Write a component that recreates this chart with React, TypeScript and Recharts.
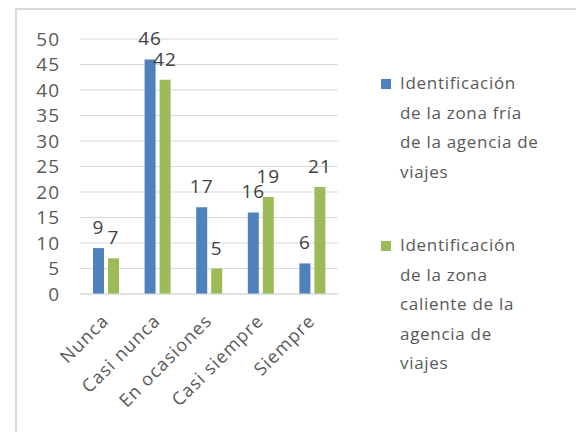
import React from 'react';
import { BarChart, Bar, XAxis, YAxis, CartesianGrid, LabelList } from 'recharts';

const categories = ['Nunca', 'Casi nunca', 'En ocasiones', 'Casi siempre', 'Siempre'];
const zonaFria = [9, 46, 17, 16, 6];
const zonaCaliente = [7, 42, 5, 19, 21];
// line breaks as in the original legend
const seriesNames = [
  'Identificación\nde la zona fría\nde la agencia de\nviajes',
  'Identificación\nde la zona\ncaliente de la\nagencia de\nviajes',
];
const seriesColors = ['#4F81BD', '#9BBB59'];
const yTicks = [0, 5, 10, 15, 20, 25, 30, 35, 40, 45, 50];

const data = categories.map((name, i) => ({
  name,
  fria: zonaFria[i],
  caliente: zonaCaliente[i],
}));

const FONT = '"Open Sans", sans-serif';

const XTick = ({ x, y, payload }: any) => (
  <g transform={`translate(${x + 4},${y + 20})`}>
    <text
      x={0}
      y={0}
      textAnchor="end"
      transform="rotate(-45)"
      fill="#595959"
      fontSize={18}
      letterSpacing={1.1}
      fontFamily={FONT}
    >
      {payload.value}
    </text>
  </g>
);

const LegendBox = () => (
  <div
    style={{
      position: 'absolute',
      left: 381,
      top: 68,
      fontFamily: FONT,
      fontSize: 17,
      letterSpacing: 0.7,
      color: '#595959',
      lineHeight: '29.5px',
    }}
  >
    {seriesNames.map((name, i) => (
      <div key={name} style={{ display: 'flex', alignItems: 'flex-start', marginBottom: i === 0 ? 44 : 0 }}>
        <span
          style={{
            display: 'inline-block',
            width: 10,
            height: 10,
            background: seriesColors[i],
            marginTop: 11,
            marginRight: 9,
            flexShrink: 0,
          }}
        />
        <span style={{ whiteSpace: 'pre-line' }}>{name}</span>
      </div>
    ))}
  </div>
);

export default function App() {
  return (
    <div style={{ position: 'absolute', left: 0, top: 0, width: 576, height: 432, overflow: 'hidden', background: '#fff' }}>
      <div
        style={{
          position: 'absolute',
          left: 15,
          top: 8,
          width: 600,
          height: 500,
          border: '2px solid #D9D9D9',
        }}
      />
      <BarChart
        width={576}
        height={432}
        data={data}
        margin={{ top: 39, right: 238, left: 40, bottom: 38 }}
        barSize={11}
        barGap={4}
        style={{ position: 'absolute', left: 0, top: 0 }}
      >
        <CartesianGrid vertical={false} stroke="#D9D9D9" strokeWidth={1.2} />
        <XAxis
          dataKey="name"
          axisLine={{ stroke: '#D9D9D9', strokeWidth: 1.2 }}
          tickLine={false}
          interval={0}
          height={100}
          tick={<XTick />}
        />
        <YAxis
          domain={[0, 50]}
          ticks={yTicks}
          interval={0}
          axisLine={false}
          tickLine={false}
          width={40}
          tickMargin={14}
          tick={{ fill: '#595959', fontSize: 19, letterSpacing: 1, fontFamily: FONT }}
        />
        <Bar dataKey="fria" fill={seriesColors[0]} isAnimationActive={false}>
          <LabelList dataKey="fria" position="top" offset={14} fill="#404040" fontSize={19} letterSpacing={1} fontFamily={FONT} />
        </Bar>
        <Bar dataKey="caliente" fill={seriesColors[1]} isAnimationActive={false}>
          <LabelList dataKey="caliente" position="top" offset={14} fill="#404040" fontSize={19} letterSpacing={1} fontFamily={FONT} />
        </Bar>
      </BarChart>
      <LegendBox />
    </div>
  );
}
